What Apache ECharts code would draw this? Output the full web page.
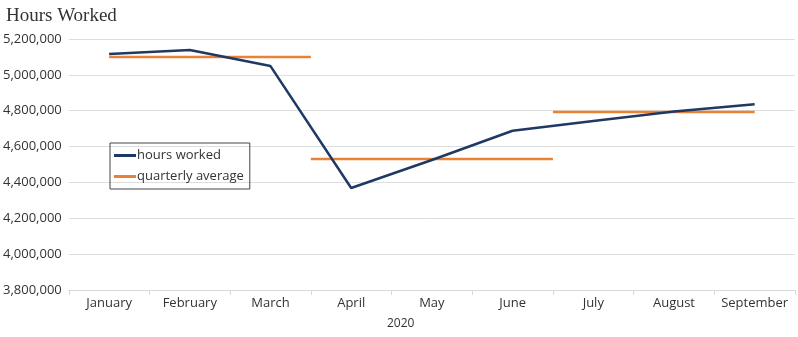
<!DOCTYPE html>
<html>
<head>
<meta charset="utf-8">
<style>
  html, body { margin: 0; padding: 0; background: #fff; }
  #chart { width: 798px; height: 337px; }
</style>
<script src="https://cdn.jsdelivr.net/npm/echarts@6/dist/echarts.min.js"></script>
</head>
<body>
<div id="chart"></div>
<script>
// Monthly hours worked, 2020
const months = ['January', 'February', 'March', 'April', 'May', 'June', 'July', 'August', 'September'];
const hoursWorked = [5116000, 5139000, 5049000, 4369000, 4525000, 4688000, 4743000, 4795000, 4836000];

// Quarterly averages, each spanning a stretch of the month axis (in month-slot units)
const quarterAvg = [5100000, 4530000, 4793000];
const quarterFrom = [0.5, 3, 6];
const quarterTo = [3, 6, 8.5];

const yTicks = { min: 3800000, max: 5200000, step: 200000 };

const NAVY = '#1f3864';
const ORANGE = '#ea8236';
const TEXT = '#333333';
const SANS = '"Open Sans", sans-serif';

const chart = echarts.init(document.getElementById('chart'), null, { renderer: 'canvas' });

const avgSeries = quarterAvg.map((v, i) => ({
  name: 'quarterly average',
  type: 'line',
  xAxisIndex: 1,
  symbol: 'none',
  silent: true,
  lineStyle: { color: ORANGE, width: 2.5, cap: 'butt' },
  itemStyle: { color: ORANGE },
  data: [[quarterFrom[i], v], [quarterTo[i], v]],
  z: 2
}));

chart.setOption({
  animation: false,
  backgroundColor: '#ffffff',
  title: {
    text: 'Hours Worked',
    left: 1,
    top: 2,
    textStyle: { fontFamily: '"Liberation Serif", serif', fontSize: 19, fontWeight: 'normal', color: TEXT }
  },
  graphic: [{
    type: 'text',
    left: 387,
    top: 318,
    style: { text: '2020', fontFamily: SANS, fontSize: 12, fill: TEXT }
  }],
  legend: {
    orient: 'vertical',
    left: 110,
    top: 143,
    padding: [6, 6, 6, 4],
    itemGap: 8,
    itemWidth: 22,
    itemHeight: 3,
    icon: 'rect',
    borderColor: '#444',
    borderWidth: 1,
    textStyle: { fontFamily: SANS, fontSize: 13, color: TEXT, padding: [0, 0, 0, -4] },
    data: [
      { name: 'hours worked', itemStyle: { color: NAVY } },
      { name: 'quarterly average', itemStyle: { color: ORANGE } }
    ]
  },
  grid: { left: 67, right: 3, top: 39, bottom: 47, containLabel: false },
  xAxis: [{
    type: 'category',
    data: months,
    boundaryGap: true,
    axisLine: { show: true, lineStyle: { color: '#d9d9d9', width: 1 } },
    axisTick: { show: true, length: 5, interval: 0, lineStyle: { color: '#d9d9d9' } },
    axisLabel: { fontFamily: SANS, fontSize: 13, color: TEXT, margin: 7, interval: 0 }
  }, {
    type: 'value',
    min: 0,
    max: months.length,
    show: false
  }],
  yAxis: {
    type: 'value',
    min: yTicks.min,
    max: yTicks.max,
    interval: yTicks.step,
    axisLine: { show: false },
    axisTick: { show: false },
    splitLine: { lineStyle: { color: '#dedede', width: 1 } },
    axisLabel: {
      fontFamily: SANS, fontSize: 13, color: TEXT, margin: 7,
      formatter: v => v.toLocaleString('en-US')
    }
  },
  series: [{
    name: 'hours worked',
    type: 'line',
    data: hoursWorked,
    symbol: 'none',
    lineStyle: { color: NAVY, width: 2.5 },
    itemStyle: { color: NAVY },
    z: 3
  }].concat(avgSeries)
});
</script>
</body>
</html>
